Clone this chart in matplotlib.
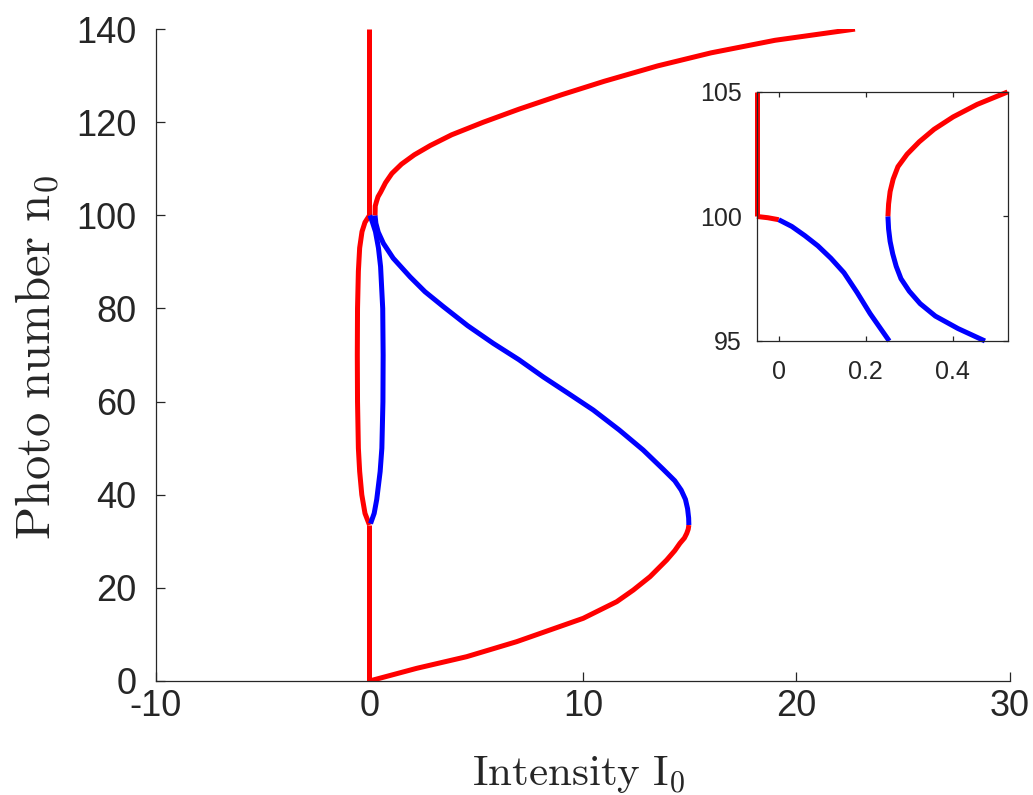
import matplotlib
matplotlib.use('Agg')
import matplotlib.pyplot as plt

plt.rcParams['font.family'] = ['Liberation Sans', 'DejaVu Sans']
plt.rcParams['mathtext.fontset'] = 'cm'
plt.rcParams['axes.unicode_minus'] = False

RED = '#ff0000'
BLUE = '#0000ff'
GRAY = '#262626'

# --- main plot data ---
# vertical branch at I0 = 0
vert_lo_I = [0, 0]
vert_lo_n = [0, 33.5]
vert_hi_I = [0, 0]
vert_hi_n = [100, 140]

# small closed loop between n0 = 33.5 and n0 = 100
loop_red_I = [0, -0.21, -0.36, -0.46, -0.52, -0.56, -0.57, -0.56, -0.52, -0.46, -0.35, -0.21, 0]
loop_red_n = [33.5, 36, 40, 45, 50, 60, 70, 80, 88, 93, 96.5, 98.5, 100]
loop_blue_I = [0.05, 0.22, 0.34, 0.5, 0.58, 0.63, 0.64, 0.62, 0.52, 0.42, 0.28, 0.14, 0.02]
loop_blue_n = [33.8, 36, 39, 45, 50, 60, 70, 80, 89, 93, 96.5, 98.5, 100]

# S-shaped curve
s_red_lo_I = [0, 2.21, 4.55, 6.89, 10.01, 11.58, 12.36, 13.14, 13.92, 14.3, 14.54, 14.75, 14.86, 14.93, 14.96]
s_red_lo_n = [0, 2.72, 5.22, 8.44, 13.46, 17.03, 19.54, 22.4, 25.98, 28.0, 29.57, 30.7, 31.7, 32.6, 33.5]
s_blue_I = [14.96, 14.95, 14.9, 14.8, 14.6, 14.3, 13.75, 12.82, 11.7, 10.48, 9.3, 8.14, 7.0,
            5.8, 4.6, 3.46, 2.6, 1.9, 1.11, 0.65, 0.41, 0.3, 0.26]
s_blue_n = [33.5, 35.0, 37.0, 39.0, 41.0, 43.0, 45.5, 49.6, 53.9, 58.2, 61.8, 65.3, 69.0,
            72.5, 76.3, 80.4, 83.6, 86.8, 90.8, 94.0, 96.4, 98.3, 100]
s_red_hi_I = [0.26, 0.27, 0.33, 0.40, 0.526, 0.75, 1.05, 1.5, 2.1, 2.85, 3.85, 5.33, 7.0, 9.0,
              11.0, 13.5, 16.0, 19.0, 22.74]
s_red_hi_n = [100, 102, 103, 104, 105, 107, 109, 111, 113, 115, 117.3, 120.0, 122.8, 125.9,
              128.8, 132.1, 134.9, 137.6, 140.0]

# --- inset data (zoom around n0 = 100) ---
in_vert_I = [-0.05, -0.05]
in_vert_n = [100, 105]
in_stub_I = [-0.05, -0.025, 0.0]
in_stub_n = [100, 99.95, 99.87]
in_blue1_I = [0.0, 0.03, 0.06, 0.09, 0.12, 0.15, 0.18, 0.21, 0.254]
in_blue1_n = [99.87, 99.6, 99.23, 98.82, 98.32, 97.74, 96.95, 96.1, 95.0]
in_red2_I = [0.251, 0.2525, 0.256, 0.263, 0.274, 0.295, 0.323, 0.357, 0.401, 0.456, 0.526]
in_red2_n = [100, 100.5, 101, 101.5, 102, 102.5, 103, 103.5, 104, 104.5, 105]
in_blue2_I = [0.251, 0.2525, 0.256, 0.262, 0.27, 0.281, 0.300, 0.325, 0.360, 0.412, 0.474]
in_blue2_n = [100, 99.5, 99, 98.5, 98, 97.5, 97, 96.5, 96, 95.5, 95]

fig = plt.figure(figsize=(10.33, 7.95), dpi=100)
ax = fig.add_axes([0.151, 0.1434, 0.8267, 0.820])

lw = 3.6
for I, n, c in [(vert_lo_I, vert_lo_n, RED), (vert_hi_I, vert_hi_n, RED),
                (loop_red_I, loop_red_n, RED), (loop_blue_I, loop_blue_n, BLUE),
                (s_red_lo_I, s_red_lo_n, RED), (s_blue_I, s_blue_n, BLUE),
                (s_red_hi_I, s_red_hi_n, RED)]:
    ax.plot(I, n, color=c, lw=lw, solid_capstyle='butt', solid_joinstyle='round')

ax.set_xlim(-10, 30)
ax.set_ylim(0, 140)
ax.set_xticks([-10, 0, 10, 20, 30])
ax.set_yticks(range(0, 141, 20))
ax.spines['top'].set_visible(False)
ax.spines['right'].set_visible(False)
for s in ['left', 'bottom']:
    ax.spines[s].set_color(GRAY)
    ax.spines[s].set_linewidth(0.9)
ax.tick_params(direction='in', length=6.5, width=0.9, color=GRAY,
               labelsize=26, labelcolor=GRAY)
ax.tick_params(axis='y', pad=14)
ax.tick_params(axis='x', pad=6)

fig.text(50 / 1033, 1 - 358 / 795, r'$\mathrm{Photo\ number\ n_0}$', fontsize=35, color=GRAY,
         rotation=90, rotation_mode='anchor', ha='center', va='baseline')
fig.text(579 / 1033, 1 - 785 / 795, r'$\mathrm{Intensity\ I_0}$', fontsize=31, color=GRAY,
         ha='center', va='baseline')

# inset
axi = fig.add_axes([0.7328, 0.5711, 0.243, 0.3132])
for I, n, c in [(in_vert_I, in_vert_n, RED), (in_stub_I, in_stub_n, RED),
                (in_blue1_I, in_blue1_n, BLUE), (in_red2_I, in_red2_n, RED),
                (in_blue2_I, in_blue2_n, BLUE)]:
    axi.plot(I, n, color=c, lw=lw, solid_capstyle='butt', solid_joinstyle='round', clip_on=False)
axi.set_xlim(-0.05, 0.527)
axi.set_ylim(95, 105)
axi.set_xticks([0, 0.2, 0.4])
axi.set_xticklabels(['0', '0.2', '0.4'])
axi.set_yticks([95, 100, 105])
for s in axi.spines.values():
    s.set_color(GRAY)
    s.set_linewidth(0.9)
axi.tick_params(direction='in', length=3.5, width=0.9, color=GRAY, top=True, right=True,
                labelsize=18, labelcolor=GRAY)
axi.tick_params(axis='y', pad=11)
axi.tick_params(axis='x', pad=14)

fig.savefig('out.png', dpi=100)
